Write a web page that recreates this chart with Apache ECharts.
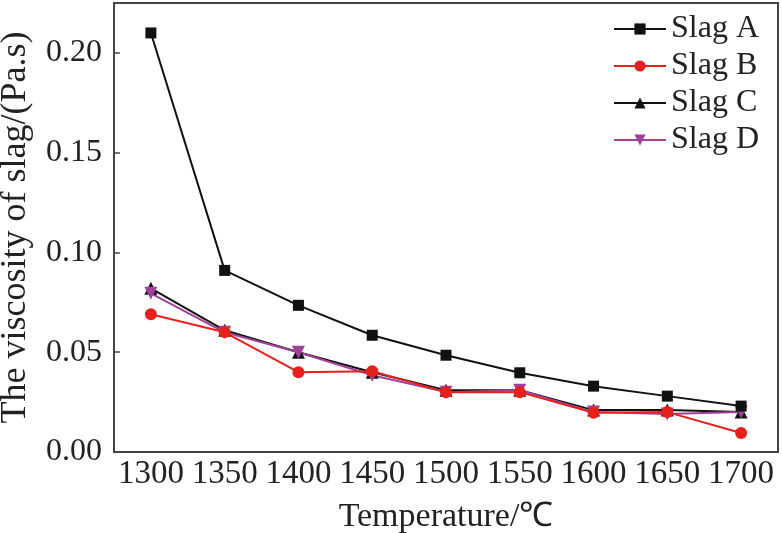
<!DOCTYPE html>
<html><head><meta charset="utf-8">
<script src="https://cdn.jsdelivr.net/npm/echarts@6/dist/echarts.min.js"></script>
<style>html,body{margin:0;padding:0;background:#fff}#c{width:782px;height:533px}</style>
</head><body><div id="c"></div>
<script>
const temperatures = ['1300','1350','1400','1450','1500','1550','1600','1650','1700'];
const slagA = [0.210, 0.091, 0.0735, 0.0585, 0.0485, 0.0397, 0.033, 0.028, 0.023];
const slagB = [0.069, 0.060, 0.040, 0.0405, 0.030, 0.030, 0.0197, 0.020, 0.0095];
const slagC = [0.082, 0.061, 0.050, 0.040, 0.031, 0.031, 0.021, 0.021, 0.020];
const slagD = [0.0795, 0.060, 0.050, 0.0385, 0.030, 0.031, 0.020, 0.019, 0.020];
const yTicks = [0, 0.05, 0.10, 0.15, 0.20];

const font = 'Liberation Serif';
const chart = echarts.init(document.getElementById('c'));
function ser(name, data, color, symbol, size, z) {
  return { name, type: 'line', data, symbol, symbolSize: size, z,
    lineStyle: { color, width: 2 }, itemStyle: { color }, emphasis: { disabled: true } };
}
chart.setOption({
  backgroundColor: '#fff',
  animation: false,
  grid: { left: 114, right: 4, top: 3, bottom: 81, outerBoundsMode: 'none', containLabel: false,
    show: true, borderColor: '#444', borderWidth: 2, backgroundColor: 'transparent' },
  legend: {
    orient: 'vertical', right: 18, top: 8, itemWidth: 52, itemHeight: 14, itemGap: 5,
    textStyle: { fontFamily: font, fontSize: 32, color: '#222', lineHeight: 32 },
    data: ['Slag A', 'Slag B', 'Slag C', 'Slag D']
  },
  xAxis: {
    type: 'category', data: temperatures, boundaryGap: true,
    name: 'Temperature/℃', nameLocation: 'middle', nameGap: 48,
    nameTextStyle: { fontFamily: font, fontSize: 34, color: '#222' },
    axisLine: { lineStyle: { color: '#444', width: 2 } },
    axisTick: { inside: true, alignWithLabel: true, length: 8, lineStyle: { color: '#444', width: 1.5 } },
    axisLabel: { fontFamily: font, fontSize: 33, color: '#222', margin: 6, interval: 0 },
    splitLine: { show: false }
  },
  yAxis: {
    type: 'value', min: 0, max: 0.225, interval: 0.05,
    name: 'The viscosity of slag/(Pa.s)', nameLocation: 'middle', nameGap: 80,
    nameTextStyle: { fontFamily: font, fontSize: 36, color: '#222' },
    axisLine: { show: true, lineStyle: { color: '#444', width: 2 } },
    axisTick: { show: true, inside: true, length: 6, lineStyle: { color: '#444', width: 1.5 } },
    axisLabel: { fontFamily: font, fontSize: 32, color: '#222', margin: 12,
      formatter: v => yTicks.some(t => Math.abs(t - v) < 1e-9) ? v.toFixed(2) : '' },
    splitLine: { show: false }
  },
  series: [
    ser('Slag A', slagA, '#111111', 'rect', 11, 3),
    ser('Slag B', slagB, '#e8201c', 'circle', 12, 5),
    ser('Slag C', slagC, '#111111', 'triangle', 13, 2),
    ser('Slag D', slagD, '#a0409a', 'path://M0,0 L10,0 L5,10 Z', 13, 2)
  ]
});
</script></body></html>
